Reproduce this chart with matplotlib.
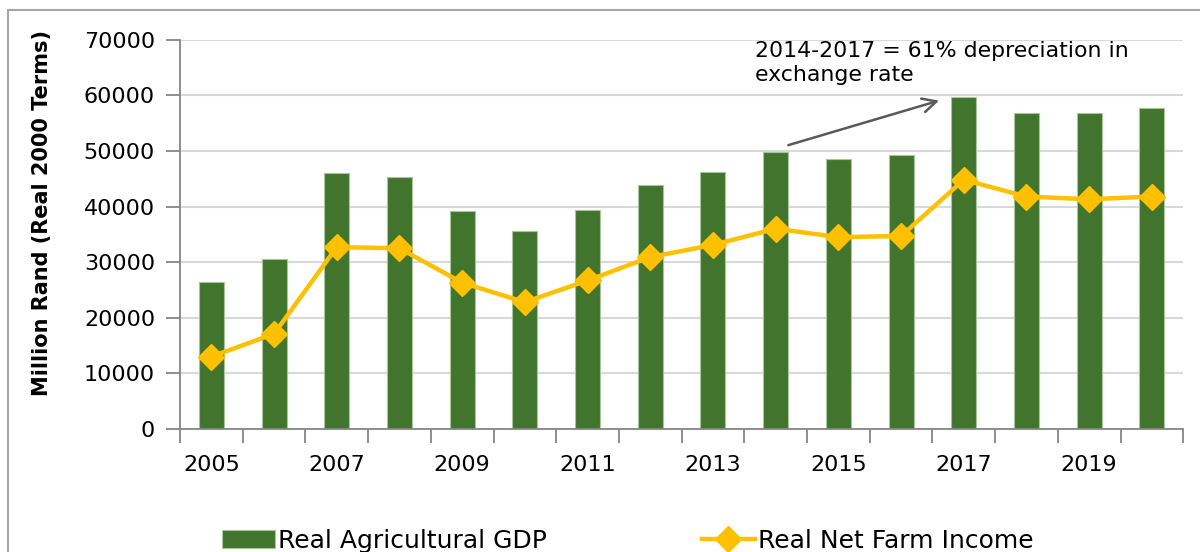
import numpy as np
import matplotlib
matplotlib.use("Agg")
import matplotlib.pyplot as plt
from matplotlib.patches import Rectangle

years = list(range(2005, 2021))
agri_gdp = [26500, 30500, 46000, 45400, 39200, 35600, 39400, 43900,
            46200, 49800, 48600, 49200, 59700, 56800, 56800, 57800]
net_farm_income = [13000, 17100, 32700, 32500, 26300, 22800, 26700, 30900,
                   33100, 36000, 34500, 34700, 44800, 41800, 41300, 41800]

plt.rcParams['font.family'] = ['DejaVu Sans']

fig = plt.figure(figsize=(12, 5.52), dpi=100)
ax = fig.add_axes([0.15, 0.223, 0.836, 0.705])

x = np.arange(len(years))
bars = ax.bar(x, agri_gdp, width=0.4, color='#41752e', edgecolor='#a9c59a',
              linewidth=0.8, label='Real Agricultural GDP', zorder=2)
line, = ax.plot(x, net_farm_income, color='#ffc000', linewidth=3.2, marker='D',
                markersize=13, label='Real Net Farm Income', zorder=3)

ax.set_xlim(-0.5, len(years) - 0.5)
ax.set_ylim(0, 70000)
ax.set_yticks(np.arange(0, 70001, 10000))
ax.yaxis.grid(True, color='#d9d9d9', linewidth=1.5, zorder=0)
ax.set_axisbelow(True)

# tick marks on category boundaries, labels for every other year
ax.set_xticks(np.arange(-0.5, len(years), 1.0))
ax.set_xticklabels([])
ax.set_xticks(x[::2], minor=True)
ax.set_xticklabels([str(y) for y in years[::2]], minor=True)
ax.tick_params(axis='x', which='major', length=10, color='#868686', width=1.3)
ax.tick_params(axis='x', which='minor', length=0, labelsize=16, pad=19)
ax.tick_params(axis='y', length=10, color='#868686', width=1.3, labelsize=16, pad=8)

for s in ['top', 'right']:
    ax.spines[s].set_visible(False)
for s in ['left', 'bottom']:
    ax.spines[s].set_color('#868686')
    ax.spines[s].set_linewidth(1.3)

ax.set_ylabel('Million Rand (Real 2000 Terms)', fontsize=15, fontweight='bold')
ax.yaxis.set_label_coords(-0.128, 0.555)

ax.annotate('', xy=(11.65, 59200), xytext=(9.16, 50900),
            arrowprops=dict(arrowstyle='->', color='#595959', lw=1.8,
                            mutation_scale=25))
ax.text(8.67, 69700, '2014-2017 = 61% depreciation in\nexchange rate',
        fontsize=15.8, va='top', ha='left', linespacing=1.2)

fig.legend(handles=[bars, line], loc='center left', bbox_to_anchor=(0.185, 0.02),
           ncol=2, frameon=False, fontsize=18, columnspacing=6.2,
           handlelength=2.1, handletextpad=0.15, borderaxespad=0, borderpad=0)

fig.patches.append(Rectangle((0.007, -0.1), 1.2, 1.1 - 10 / 552, transform=fig.transFigure,
                             fill=False, edgecolor='#a6a6a6', linewidth=1.5))

fig.savefig('out.png', dpi=100)
